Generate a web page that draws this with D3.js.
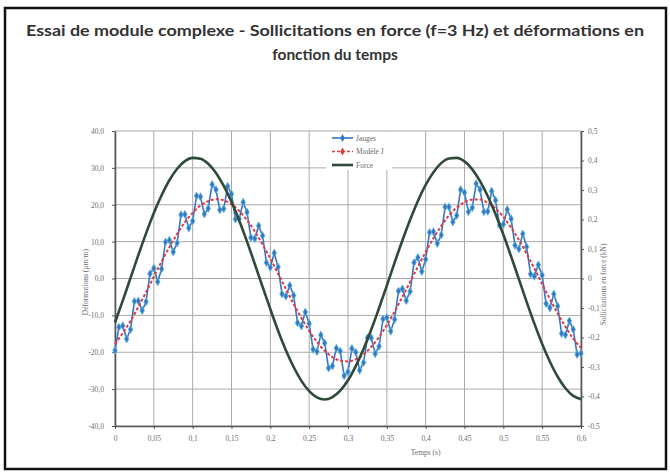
<!DOCTYPE html>
<html>
<head>
<meta charset="utf-8">
<script src="https://cdn.jsdelivr.net/npm/d3@7/dist/d3.min.js"></script>
<style>
  html, body { margin: 0; padding: 0; background: #fff; }
  svg { display: block; }
</style>
</head>
<body>
<svg id="chart" width="670" height="475"></svg>
<script>
// Essai de module complexe : force (axe droit) et déformations (axe gauche) en fonction du temps

const titleLines = [
  "Essai de module complexe - Sollicitations en force (f=3 Hz) et déformations en",
  "fonction du temps"
];

const xTicks = [0, 0.05, 0.1, 0.15, 0.2, 0.25, 0.3, 0.35, 0.4, 0.45, 0.5, 0.55, 0.6];
const leftTicks = [-40, -30, -20, -10, 0, 10, 20, 30, 40];
const rightTicks = [-0.5, -0.4, -0.3, -0.2, -0.1, 0, 0.1, 0.2, 0.3, 0.4, 0.5];

const seriesNames = ["Jauges", "Modèle J", "Force"];

// Force (kN), pas de 0,01 s
const forceStep = 0.01;
const forceValues = [
  -0.149, -0.075, 0.002, 0.079, 0.153, 0.222, 0.282, 0.333, 0.372, 0.398,
  0.409, 0.406, 0.389, 0.358, 0.314, 0.260, 0.196, 0.125, 0.049, -0.028,
  -0.104, -0.177, -0.243, -0.300, -0.347, -0.382, -0.403, -0.410, -0.402, -0.380,
  -0.345, -0.297, -0.239, -0.173, -0.100, -0.024, 0.054, 0.129, 0.199, 0.263,
  0.317, 0.360, 0.391, 0.407, 0.409, 0.397, 0.370, 0.330, 0.279, 0.218,
  0.149, 0.075, -0.002, -0.079, -0.153, -0.222, -0.282, -0.333, -0.372, -0.398,
  -0.409
];

// Modèle J (µm/m), pas de 0,01 s
const modelStep = 0.01;
const modelValues = [
  -17.7, -14.8, -11.5, -7.7, -3.7, 0.5, 4.6, 8.5, 12.1, 15.3,
  17.8, 19.8, 21.0, 21.5, 21.2, 20.1, 18.3, 15.8, 12.8, 9.2,
  5.4, 1.3, -2.8, -6.9, -10.7, -14.2, -17.2, -19.6, -21.3, -22.3,
  -22.5, -21.9, -20.6, -18.5, -15.9, -12.6, -9.0, -5.0, -0.9, 3.2,
  7.2, 10.9, 14.2, 17.1, 19.2, 20.7, 21.4, 21.4, 20.5, 19.0,
  16.7, 13.8, 10.5, 6.7, 2.7, -1.5, -5.6, -9.5, -13.1, -16.3,
  -18.8
];

// Jauges (µm/m), pas de 0,005 s
const gaugeStep = 0.005;
const gaugeValues = [
  -19.5, -13.2, -12.8, -16.4, -13.8, -6.2, -6.1, -8.7, -6.3, 1.3,
  2.8, -0.9, 2.6, 9.9, 10.4, 7.2, 9.6, 17.3, 17.4, 13.7,
  15.6, 22.4, 22.2, 17.5, 19.0, 25.5, 24.1, 18.6, 18.9, 25.0,
  22.9, 16.1, 16.2, 20.7, 18.0, 11.1, 10.8, 14.3, 11.6, 4.3,
  3.0, 6.9, 3.1, -4.2, -4.8, -1.9, -4.6, -12.0, -12.9, -9.1,
  -12.2, -19.2, -19.8, -15.3, -17.5, -24.3, -23.7, -18.9, -19.7, -26.4,
  -25.3, -19.0, -20.0, -24.9, -22.8, -16.1, -16.1, -20.4, -18.4, -11.0,
  -10.6, -14.3, -11.1, -3.4, -2.8, -6.0, -3.5, 4.3, 5.7, 1.9,
  5.2, 12.5, 12.7, 9.5, 11.8, 19.4, 19.4, 15.3, 17.1, 24.1,
  23.3, 18.1, 19.2, 25.7, 24.1, 18.1, 18.2, 23.7, 21.2, 14.5,
  14.7, 18.7, 16.2, 9.0, 8.0, 12.1, 8.6, 1.2, 0.6, 3.7,
  0.9, -6.8, -8.0, -4.2, -7.5, -14.9, -15.3, -11.5, -13.8, -20.6,
  -20.3
];

const colors = { gauge: "#3576c4", gaugeMark: "#3f8fd0", model: "#e23a3f", force: "#2f4a38" };

const svg = d3.select("#chart");
const W = 670, H = 475;
const plot = { left: 115, right: 581, top: 131, bottom: 426 };

// Cadre extérieur
svg.append("rect")
  .attr("x", 5).attr("y", 8).attr("width", 661).attr("height", 461)
  .attr("fill", "#fff").attr("stroke", "#111").attr("stroke-width", 2.5);

// Titre
svg.append("g").selectAll("text").data(titleLines).join("text")
  .attr("x", W / 2).attr("y", (d, i) => 36 + i * 24)
  .attr("text-anchor", "middle")
  .attr("font-family", "Lato, 'Open Sans', sans-serif")
  .attr("font-weight", "bold").attr("font-size", 15.5)
  .attr("fill", "#333")
  .attr("textLength", (d, i) => i === 0 ? 618 : null)
  .attr("lengthAdjust", "spacingAndGlyphs")
  .text(d => d);

const x = d3.scaleLinear().domain([0, 0.6]).range([plot.left, plot.right]);
const yL = d3.scaleLinear().domain([-40, 40]).range([plot.bottom, plot.top]);
const yR = d3.scaleLinear().domain([-0.5, 0.5]).range([plot.bottom, plot.top]);

const comma = v => String(+v.toFixed(3)).replace(".", ",");
const fmtLeft = v => v.toFixed(1).replace(".", ",");

const labelFont = "'Liberation Serif', 'DejaVu Serif', serif";
const labelColor = "#6d6d6d";

// Grille
const grid = svg.append("g").attr("stroke", "#a9a9a9").attr("stroke-width", 1);
grid.selectAll("line.h").data(leftTicks).join("line")
  .attr("x1", plot.left).attr("x2", plot.right)
  .attr("y1", d => yL(d)).attr("y2", d => yL(d));
grid.selectAll("line.v").data(xTicks).join("line")
  .attr("y1", plot.top).attr("y2", plot.bottom)
  .attr("x1", d => x(d)).attr("x2", d => x(d));

// Axes
const axisStyle = g => {
  g.select(".domain").attr("stroke", "#555").attr("stroke-width", 1.6);
  g.selectAll(".tick line").attr("stroke", "#555");
  g.selectAll(".tick text").attr("fill", labelColor)
    .attr("font-family", labelFont).attr("font-size", 7.5);
};

svg.append("g").attr("transform", `translate(0,${plot.bottom})`)
  .call(d3.axisBottom(x).tickValues(xTicks).tickFormat(comma).tickSize(3).tickSizeOuter(0).tickPadding(7))
  .call(axisStyle);

svg.append("g").attr("transform", `translate(${plot.left},0)`)
  .call(d3.axisLeft(yL).tickValues(leftTicks).tickFormat(fmtLeft).tickSize(3).tickSizeOuter(0).tickPadding(8))
  .call(axisStyle);

svg.append("g").attr("transform", `translate(${plot.right},0)`)
  .call(d3.axisRight(yR).tickValues(rightTicks).tickFormat(comma).tickSize(3).tickSizeOuter(0).tickPadding(4))
  .call(axisStyle);

// Titres d'axes
svg.append("text")
  .attr("x", x(0.4)).attr("y", 455).attr("text-anchor", "middle")
  .attr("font-family", labelFont).attr("font-size", 7.5).attr("fill", labelColor)
  .text("Temps (s)");
svg.append("text")
  .attr("transform", `translate(88,${yL(-1)}) rotate(-90)`)
  .attr("text-anchor", "middle")
  .attr("font-family", labelFont).attr("font-size", 7.5).attr("fill", labelColor)
  .text("Déformations (µm/m)");
svg.append("text")
  .attr("transform", `translate(606,${yR(-0.02)}) rotate(-90)`)
  .attr("text-anchor", "middle")
  .attr("font-family", labelFont).attr("font-size", 7.5).attr("fill", labelColor)
  .text("Sollicitations en force (kN)");

// Séries
const forceData = forceValues.map((v, i) => [i * forceStep, v]);
const modelData = modelValues.map((v, i) => [i * modelStep, v]);
const gaugeData = gaugeValues.map((v, i) => [i * gaugeStep, v]);

const lineL = d3.line().x(d => x(d[0])).y(d => yL(d[1]));
const lineR = d3.line().x(d => x(d[0])).y(d => yR(d[1])).curve(d3.curveMonotoneX);
const lineModel = d3.line().x(d => x(d[0])).y(d => yL(d[1])).curve(d3.curveMonotoneX);

svg.append("path").datum(gaugeData)
  .attr("d", lineL).attr("fill", "none")
  .attr("stroke", colors.gauge).attr("stroke-width", 1.6);

const diamond = d3.symbol().type(d3.symbolDiamond).size(18);
svg.append("g").selectAll("path").data(gaugeData).join("path")
  .attr("transform", d => `translate(${x(d[0])},${yL(d[1])})`)
  .attr("d", diamond)
  .attr("fill", colors.gauge).attr("stroke", "#5fb7dc").attr("stroke-width", 0.8);

svg.append("path").datum(modelData)
  .attr("d", lineModel).attr("fill", "none")
  .attr("stroke", colors.model).attr("stroke-width", 2)
  .attr("stroke-dasharray", "3,2");

svg.append("path").datum(forceData)
  .attr("d", lineR).attr("fill", "none")
  .attr("stroke", colors.force).attr("stroke-width", 2.6);

// Légende
const legend = svg.append("g");
legend.append("rect")
  .attr("x", 326).attr("y", 132).attr("width", 66).attr("height", 38)
  .attr("fill", "#fff");
const legendRows = [
  { name: seriesNames[0], color: colors.gauge, width: 1.6, dash: null, mark: true },
  { name: seriesNames[1], color: colors.model, width: 1.6, dash: "3,2", mark: true },
  { name: seriesNames[2], color: colors.force, width: 2.6, dash: null, mark: false }
];
const rows = legend.selectAll("g").data(legendRows).join("g")
  .attr("transform", (d, i) => `translate(332,${138 + i * 13.5})`);
rows.append("line")
  .attr("x1", 0).attr("x2", 21).attr("y1", 0).attr("y2", 0)
  .attr("stroke", d => d.color).attr("stroke-width", d => d.width)
  .attr("stroke-dasharray", d => d.dash);
rows.filter(d => d.mark).append("path")
  .attr("transform", "translate(10.5,0)")
  .attr("d", diamond)
  .attr("fill", d => d.color);
rows.append("text")
  .attr("x", 24).attr("y", 2.5)
  .attr("font-family", labelFont).attr("font-size", 7.5).attr("fill", labelColor)
  .text(d => d.name);
</script>
</body>
</html>
